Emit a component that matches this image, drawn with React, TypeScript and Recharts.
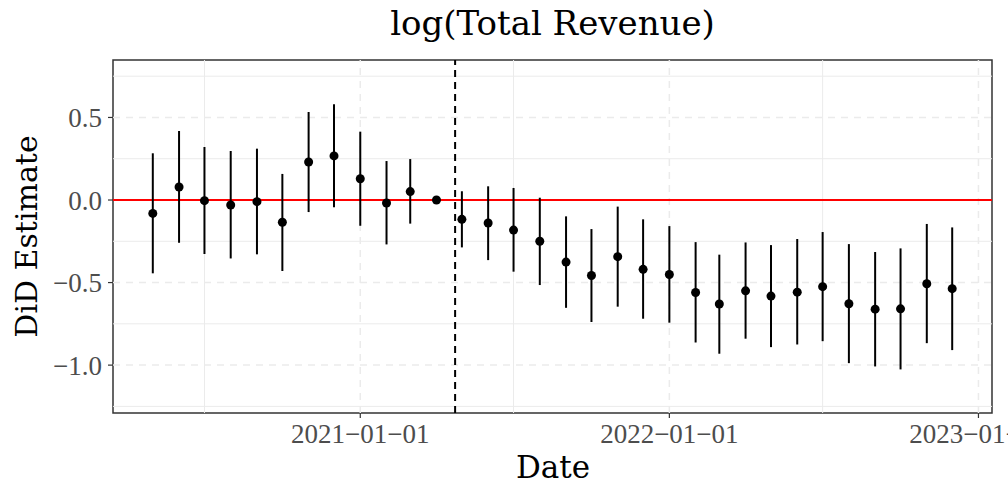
import React from "react";
import {
  ComposedChart,
  Scatter,
  ErrorBar,
  XAxis,
  YAxis,
  ReferenceLine,
  ReferenceArea,
} from "recharts";

// monthly DiD estimates with 95% CI
const months = [
  "2020-05-01", "2020-06-01", "2020-07-01", "2020-08-01", "2020-09-01", "2020-10-01",
  "2020-11-01", "2020-12-01", "2021-01-01", "2021-02-01", "2021-03-01", "2021-04-01",
  "2021-05-01", "2021-06-01", "2021-07-01", "2021-08-01", "2021-09-01", "2021-10-01",
  "2021-11-01", "2021-12-01", "2022-01-01", "2022-02-01", "2022-03-01", "2022-04-01",
  "2022-05-01", "2022-06-01", "2022-07-01", "2022-08-01", "2022-09-01", "2022-10-01",
  "2022-11-01", "2022-12-01",
];
const estimate = [
  -0.081, 0.079, -0.004, -0.03, -0.01, -0.135, 0.23, 0.267, 0.129, -0.018, 0.051, 0,
  -0.117, -0.139, -0.182, -0.25, -0.376, -0.457, -0.343, -0.42, -0.451, -0.56, -0.63, -0.55,
  -0.582, -0.558, -0.525, -0.628, -0.661, -0.659, -0.507, -0.537,
];
const lower = [
  -0.444, -0.259, -0.327, -0.354, -0.329, -0.43, -0.073, -0.044, -0.156, -0.269, -0.143, 0,
  -0.287, -0.364, -0.434, -0.515, -0.653, -0.739, -0.646, -0.719, -0.743, -0.863, -0.931, -0.84,
  -0.891, -0.875, -0.855, -0.988, -1.008, -1.026, -0.867, -0.909,
];
const upper = [
  0.283, 0.418, 0.321, 0.297, 0.311, 0.158, 0.533, 0.58, 0.414, 0.236, 0.248, 0,
  0.053, 0.083, 0.073, 0.014, -0.099, -0.176, -0.04, -0.117, -0.158, -0.255, -0.331, -0.257,
  -0.273, -0.236, -0.194, -0.267, -0.315, -0.293, -0.145, -0.166,
];

const yTicks = [0.5, 0, -0.5, -1];
const yMinor = [0.75, 0.25, -0.25, -0.75, -1.25];
const xTicks = ["2021-01-01", "2022-01-01", "2023-01-01"];
const xMinor = ["2020-07-01", "2021-07-01", "2022-07-01"];
const treatmentDate = "2021-04-23";
const xRange = ["2020-03-15", "2023-01-17"];
const yRange = [-1.29, 0.848];

const toTime = (d: string) => Date.parse(d + "T00:00:00Z");

const data = months.map((m, i) => ({
  date: toTime(m),
  est: estimate[i],
  err: [estimate[i] - lower[i], upper[i] - estimate[i]],
}));

const fmtY = (v: number) => (v < 0 ? "\u2212" : "") + Math.abs(v).toFixed(1);
const fmtX = (t: number) => new Date(t).toISOString().slice(0, 10).replace(/-/g, "\u2212");

const tickStyle = { fill: "#4d4d4d", fontSize: 27, fontFamily: "Liberation Serif" };
const gridColor = "#ebebeb";

const Dot = (props: any) => <circle cx={props.cx} cy={props.cy} r={4.5} fill="#000" />;

export default function App() {
  return (
    <div style={{ position: "absolute", left: 0, top: 0, width: 1008, height: 489, background: "#fff" }}>
      <ComposedChart
        width={1008}
        height={489}
        data={data}
        margin={{ top: 60, right: 16, bottom: 0, left: 0 }}
      >
        <XAxis
          dataKey="date"
          type="number"
          domain={xRange.map(toTime)}
          allowDataOverflow
          ticks={xTicks.map(toTime)}
          tickFormatter={fmtX}
          interval={0}
          height={76}
          axisLine={false}
          tickLine={{ stroke: "#333", strokeWidth: 1.2 }}
          tickSize={5}
          tickMargin={6}
          tick={tickStyle}
        />
        <YAxis
          type="number"
          domain={yRange}
          allowDataOverflow
          ticks={yTicks}
          tickFormatter={fmtY}
          interval={0}
          width={113}
          axisLine={false}
          tickLine={{ stroke: "#333", strokeWidth: 1.2 }}
          tickSize={5}
          tickMargin={6}
          tick={tickStyle}
        />
        {yMinor.map((v) => (
          <ReferenceLine key={"ym" + v} y={v} stroke={gridColor} strokeWidth={1} />
        ))}
        {xMinor.map((d) => (
          <ReferenceLine key={"xm" + d} x={toTime(d)} stroke={gridColor} strokeWidth={1} />
        ))}
        {yTicks.map((v) => (
          <ReferenceLine key={"y" + v} y={v} stroke={gridColor} strokeWidth={1.5} strokeDasharray="7 6" />
        ))}
        {xTicks.map((d) => (
          <ReferenceLine key={"x" + d} x={toTime(d)} stroke={gridColor} strokeWidth={1.5} strokeDasharray="7 6" />
        ))}
        <ReferenceLine y={0} stroke="#ff0000" strokeWidth={2} />
        <ReferenceLine x={toTime(treatmentDate)} stroke="#000" strokeWidth={2} strokeDasharray="7 5" />
        <Scatter dataKey="est" shape={<Dot />} isAnimationActive={false}>
          <ErrorBar dataKey="err" direction="y" width={0} stroke="#000" strokeWidth={2} isAnimationActive={false} />
        </Scatter>
        <ReferenceArea
          x1={toTime(xRange[0])}
          x2={toTime(xRange[1])}
          y1={yRange[0]}
          y2={yRange[1]}
          fill="none"
          stroke="#333"
          strokeWidth={1.5}
        />
      </ComposedChart>
      <svg
        width={1008}
        height={489}
        style={{ position: "absolute", left: 0, top: 0, pointerEvents: "none" }}
      >
        <text x={552.5} y={35} textAnchor="middle" fontFamily="DejaVu Serif" fontSize={34} fill="#000">
          log(Total Revenue)
        </text>
        <text
          x={37}
          y={236.5}
          transform="rotate(-90 37 236.5)"
          textAnchor="middle"
          fontFamily="DejaVu Serif"
          fontSize={30}
          fill="#000"
        >
          DiD Estimate
        </text>
        <text x={553} y={478} textAnchor="middle" fontFamily="DejaVu Serif" fontSize={31} fill="#000">
          Date
        </text>
      </svg>
    </div>
  );
}
